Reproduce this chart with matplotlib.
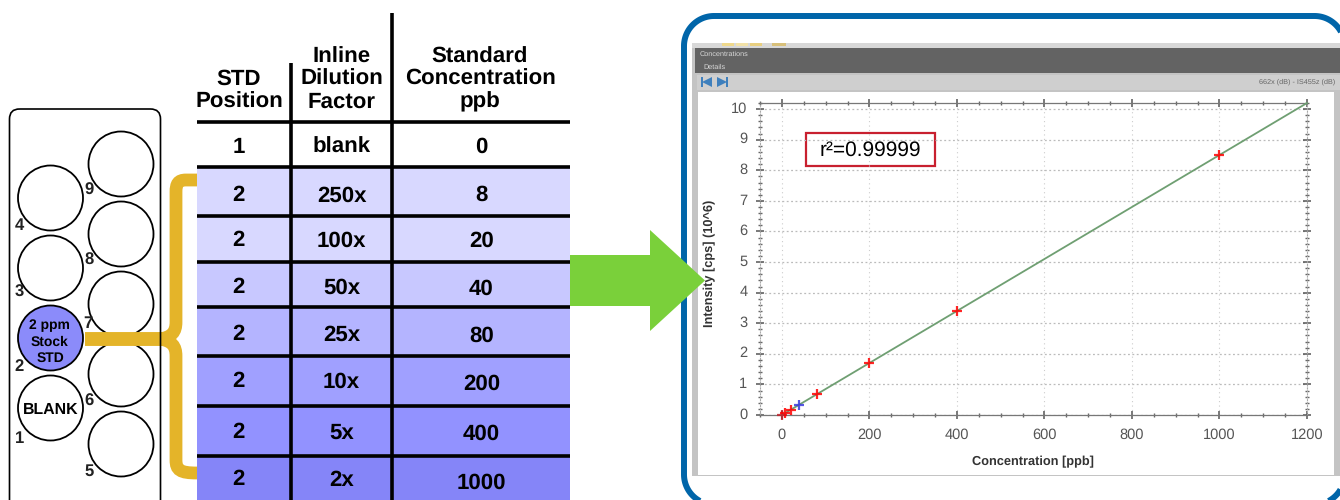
import matplotlib
matplotlib.use('Agg')
import matplotlib.pyplot as plt
import numpy as np
from matplotlib.patches import Circle, FancyBboxPatch, PathPatch, Polygon, Rectangle
from matplotlib.path import Path
from matplotlib.ticker import MultipleLocator
from matplotlib.transforms import ScaledTranslation

plt.rcParams['font.family'] = ['Liberation Sans', 'DejaVu Sans']
plt.rcParams['text.hinting'] = 'none'

# table contents
header_pos = 'STD\nPosition'
header_dil = 'Inline\nDilution\nFactor'
header_conc = 'Standard\nConcentration\nppb'
std_position = ['1', '2', '2', '2', '2', '2', '2', '2']
dilution = ['blank', '250x', '100x', '50x', '25x', '10x', '5x', '2x']
std_conc = ['0', '8', '20', '40', '80', '200', '400', '1000']
row_colors = ['#ffffff', '#d8d8ff', '#d8d8ff', '#c8c8ff', '#b4b4ff', '#a0a0ff', '#9292ff', '#8585f8']

# calibration curve
conc_ppb = [0, 8, 20, 40, 80, 200, 400, 1000]
intensity = [0.0, 0.07, 0.17, 0.34, 0.68, 1.70, 3.40, 8.50]
point_colors = ['#c0202a', 'red', 'red', '#3a3ae0', 'red', 'red', 'red', 'red']
fit_x = [0, 1200]
fit_y = [0, 10.2]

# layout, in pixels of the 1340x500 picture
row_edges = [121.5, 166.5, 216, 261.5, 307, 356, 405.5, 455.5, 500]
pos_ys = [145, 193, 238, 285, 332, 379, 430, 477]
dil_ys = [145, 194, 239, 286, 333, 380, 431, 478]
conc_ys = [145, 193, 239, 287, 334, 382, 432, 481]
well_left_y = [198, 268, 338, 408]
well_right_y = [164, 234, 304, 374, 444]
well_numbers = ['9', '8', '7', '6', '5', '4', '3', '2', '1']
number_xy = [(89, 190), (89, 260), (88, 324), (89, 401), (89, 471),
             (19, 226), (19, 292), (19, 367), (20, 439)]

fig = plt.figure(figsize=(13.4, 5), dpi=100)
ax = fig.add_axes([0, 0, 1, 1])
ax.set_xlim(0, 1340)
ax.set_ylim(500, 0)
ax.axis('off')


def arc(cx, cy, r, start, stop):
    t = np.radians(np.linspace(start, stop, 40))
    return cx + r * np.cos(t), cy + r * np.sin(t)


# table
for top, bottom, color in zip(row_edges[:-1], row_edges[1:], row_colors):
    ax.add_patch(Rectangle((197, top), 373, bottom - top, fc=color, ec='none', zorder=1))
for y in row_edges[:-1]:
    ax.plot([197, 570], [y, y], color='black', lw=2.6, solid_capstyle='butt', zorder=2)
ax.plot([291, 291], [63, 500], color='black', lw=2.6, solid_capstyle='butt', zorder=2)
ax.plot([392, 392], [13, 500], color='black', lw=2.6, solid_capstyle='butt', zorder=2)

ax.text(239, 112, header_pos, ha='center', va='bottom', fontsize=16, fontweight='bold', linespacing=1.12)
ax.text(341.5, 112, header_dil, ha='center', va='bottom', fontsize=16, fontweight='bold', linespacing=1.12)
ax.text(480, 112, header_conc, ha='center', va='bottom', fontsize=16, fontweight='bold', linespacing=1.12)
for i, pos in enumerate(std_position):
    ax.text(238.5, pos_ys[i], pos, ha='center', va='center_baseline', fontsize=16, fontweight='bold', zorder=3)
    ax.text(341.5, dil_ys[i], dilution[i], ha='center', va='center_baseline', fontsize=16, fontweight='bold', zorder=3)
    ax.text(481.5, conc_ys[i], std_conc[i], ha='center', va='center_baseline', fontsize=16, fontweight='bold', zorder=3)

# gold brace and connector
gold = '#e4b429'
brace = Path(
    [(197, 180), (186, 180), (178, 180), (176, 184), (176, 192), (176, 322), (176, 332), (172, 337), (160, 339),
     (172, 341), (176, 346), (176, 356), (176, 460), (176, 470), (180, 473), (197, 473)],
    [Path.MOVETO, Path.LINETO, Path.CURVE4, Path.CURVE4, Path.CURVE4, Path.LINETO, Path.CURVE4, Path.CURVE4, Path.CURVE4,
     Path.CURVE4, Path.CURVE4, Path.CURVE4, Path.LINETO, Path.CURVE4, Path.CURVE4, Path.CURVE4])
ax.add_patch(PathPatch(brace, fc='none', ec=gold, lw=9.2, capstyle='butt', zorder=1.5))

# plate with wells
for y in well_right_y:
    ax.add_patch(Circle((121, y), 32.5, fc='white', ec='black', lw=1.3, zorder=2))
for y in well_left_y:
    blue = y == well_left_y[2]
    ax.add_patch(Circle((50.5, y), 32.5, fc='#8b8bfa' if blue else 'white', ec='black', lw=1.3, zorder=2))
ax.plot([85, 163], [339, 339], color=gold, lw=10, solid_capstyle='butt', zorder=3)
ax.add_patch(FancyBboxPatch((9.5, 109), 151, 410, boxstyle='round,pad=0,rounding_size=10',
                            fc='none', ec='black', lw=1.2, zorder=4))
ax.text(49, 324, '2 ppm', ha='center', va='center_baseline', fontsize=10, fontweight='bold', zorder=5)
ax.text(49, 341, 'Stock', ha='center', va='center_baseline', fontsize=10, fontweight='bold', zorder=5)
ax.text(50, 357, 'STD', ha='center', va='center_baseline', fontsize=10, fontweight='bold', zorder=5)
ax.text(50.5, 408, 'BLANK', ha='center', va='center_baseline', fontsize=11.4, fontweight='bold', zorder=5)
for label, (x, y) in zip(well_numbers, number_xy):
    ax.text(x, y, label, ha='center', va='center', fontsize=12, fontweight='bold', color='#222222', zorder=5)

# screenshot window
ax.add_patch(Rectangle((692, 43), 648, 433, fc='#c4c4c4', ec='none', zorder=1))
ax.add_patch(Rectangle((692, 43), 648, 5, fc='#d8d8d8', ec='none', zorder=1.1))
for x, w, c in [(722, 12, '#efd98c'), (736, 12, '#f2e2a8'), (750, 12, '#e8cf80'), (772, 14, '#d8c07a')]:
    ax.add_patch(Rectangle((x, 43), w, 2.5, fc=c, ec='none', zorder=1.2))
ax.add_patch(Rectangle((695, 48), 645, 25, fc='#636363', ec='none', zorder=1.1))
ax.add_patch(Rectangle((697, 75), 643, 15, fc='#cfcfcf', ec='none', zorder=1.1))
ax.add_patch(Rectangle((698, 92), 636, 383, fc='white', ec='none', zorder=1.2))
ax.text(700, 54.5, 'Concentrations', ha='left', va='center', fontsize=5.2, color='#d8d8d8', zorder=2)
ax.text(703, 67, 'Details', ha='left', va='center', fontsize=5.2, color='#d8d8d8', zorder=2)
ax.text(1335, 82, '662x (dB) - IS455z (dB)', ha='right', va='center', fontsize=5.2, color='#666666', zorder=2)
for xa, xb in [(702, 712), (727, 717)]:
    ax.add_patch(Polygon([(xb, 77), (xb, 87), (xa, 82)], fc='#3f80bd', ec='none', zorder=2))
    ax.add_patch(Rectangle((xa - 1, 77), 2, 10, fc='#3f80bd', ec='none', zorder=2))

# blue frame, only the parts that show inside the picture
frame_style = dict(color='#0065a9', lw=4.3, solid_capstyle='butt', zorder=5)
x1, y1 = arc(714, 474.5, 30, 108, 180)
x2, y2 = arc(714, 46, 30, 180, 270)
x3, y3 = arc(1314.5, 46, 30, 270, 345)
ax.plot(np.r_[x1, x2, x3], np.r_[y1, y2, y3], **frame_style)
x4, y4 = arc(1314.5, 474.5, 30, 30, 75)
ax.plot(x4, y4, **frame_style)

# green arrow
ax.add_patch(Polygon([(570, 255), (650, 255), (650, 230), (705, 280.5), (650, 331), (650, 306), (570, 306)],
                     fc='#7ad03a', ec='none', zorder=6))

# calibration plot, axes box runs from x=-50 to 1200 and y=0 to 10.2
chart = fig.add_axes([760 / 1340, (500 - 415) / 500, (1307 - 760) / 1340, (415 - 103) / 500])
chart.patch.set_alpha(0)
chart.set_xlim(-50, 1200)
chart.set_ylim(0, 10.2)
chart.xaxis.set_major_locator(MultipleLocator(200))
chart.xaxis.set_minor_locator(MultipleLocator(50))
chart.yaxis.set_major_locator(MultipleLocator(1))
chart.yaxis.set_minor_locator(MultipleLocator(0.2))
chart.xaxis.grid(True, which='major', color='#cccccc', linestyle=(0, (1, 3)), lw=0.8)
chart.yaxis.grid(True, which='major', color='#bbbbbb', linestyle=(0, (1.5, 2)), lw=0.9)
chart.tick_params(which='major', length=6, width=1.1, color='#555555', labelsize=10.5, labelcolor='#555555',
                  direction='inout', top=True, right=True)
chart.tick_params(axis='x', which='major', pad=6.5)
chart.tick_params(axis='y', which='major', pad=6)
chart.tick_params(which='minor', length=3.5, width=1.0, color='#666666', direction='inout', top=True, right=True)
for side in ['top', 'bottom']:
    chart.spines[side].set_color('#777777')
    chart.spines[side].set_linewidth(0.9)
for side in ['left', 'right']:
    chart.spines[side].set_color('#aaaaaa')
    chart.spines[side].set_linestyle(':')
up = ScaledTranslation(0, 1.8 / 100, fig.dpi_scale_trans)
for label in chart.get_yticklabels():
    label.set_transform(label.get_transform() + up)
chart.plot(fit_x, fit_y, color='#6f9f72', lw=1.3, zorder=3, clip_on=False)
for x, y, c in zip(conc_ppb, intensity, point_colors):
    chart.plot([x], [y], marker='+', ms=6.5, mew=1.6, color=c, alpha=0.85, zorder=4, clip_on=False)
chart.set_xlabel('Concentration [ppb]', fontsize=9.2, fontweight='bold', color='#333333')
chart.xaxis.set_label_coords((1033 - 760) / (1307 - 760), -(456 - 415) / (415 - 103))
chart.set_ylabel('Intensity [cps] (10^6)', fontsize=9.2, fontweight='bold', color='#333333')
chart.yaxis.set_label_coords(-(760 - 716) / (1307 - 760), (415 - 263) / (415 - 103))

# r squared box
ax.add_patch(Rectangle((805.5, 132.5), 129, 33, fc='white', ec='#c8202f', lw=1.6, zorder=7))
fig.text(870 / 1340, 1 - 150 / 500, 'r²=0.99999', ha='center', va='center', fontsize=15, color='black', zorder=20)

fig.savefig('out.png', dpi=100)
